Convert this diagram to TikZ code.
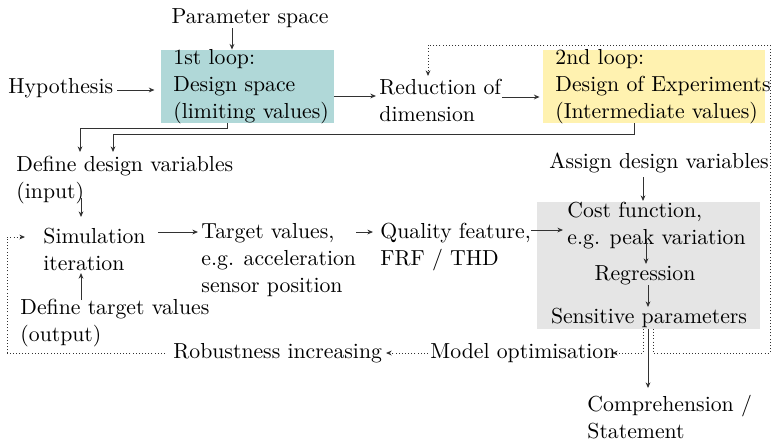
\documentclass[tikz,border=0pt]{standalone}
\usetikzlibrary{arrows.meta,calc}
\definecolor{tealbg}{RGB}{176,216,216}
\definecolor{yellowbg}{RGB}{255,242,176}
\definecolor{graybg}{RGB}{229,229,229}
\definecolor{linec}{RGB}{50,50,50}
\begin{document}
\begin{tikzpicture}[x=0.46pt,y=-0.46pt,
  txt/.style={inner sep=0pt, align=left, font=\fontsize{10}{12.4}\selectfont},
  ctxt/.style={inner sep=0pt, align=center, font=\fontsize{10}{12.4}\selectfont},
  bgbox/.style={inner sep=0pt, draw=none},
  arr/.style={-{Stealth[length=2.6pt,width=2.2pt]}, draw=linec, line width=0.45pt},
  plain/.style={draw=linec, line width=0.45pt},
  dotarr/.style={arr, densely dotted},
  dotline/.style={plain, densely dotted}]
\useasboundingbox (0,0) rectangle (771,441);

% background boxes
\node[bgbox, fill=tealbg, minimum width=79.6pt, minimum height=33.6pt] (box1) at (247.5,86.5) {};
\node[bgbox, fill=yellowbg, minimum width=102.1pt, minimum height=33.6pt] (box2) at (654,86.5) {};
\node[bgbox, fill=graybg, minimum width=102.6pt, minimum height=58.4pt] (box3) at (648.5,265.5) {};

% texts
\node[ctxt] (param) at (250,18) {Parameter space};
\node[txt, anchor=west] (hyp) at (8,88) {Hypothesis};
\node[txt, anchor=west] (box1t) at (173,87) {1st loop:\\Design space\\(limiting values)};
\node[txt, anchor=west] (red) at (379,100) {Reduction of\\dimension};
\node[txt, anchor=west] (box2t) at (555,87) {2nd loop:\\Design of Experiments\\(Intermediate values)};
\node[txt, anchor=west] (ddv) at (16,180) {Define design variables\\(input)};
\node[txt, anchor=west] (adv) at (549,163) {Assign design variables};
\node[txt, anchor=west] (sim) at (43,249) {Simulation\\iteration};
\node[txt, anchor=west] (tv) at (201,260) {Target values,\\e.g. acceleration\\sensor position};
\node[txt, anchor=west] (qf) at (380,247) {Quality feature,\\FRF / THD};
\node[txt, anchor=west] (cf) at (567,226) {Cost function,\\e.g. peak variation};
\node[ctxt] (reg) at (645,275) {Regression};
\node[ctxt] (sp) at (649,318) {Sensitive parameters};
\node[txt, anchor=west] (dtv) at (20,323) {Define target values\\(output)};
\node[txt, anchor=west] (rob) at (173,353) {Robustness increasing};
\node[txt, anchor=west] (mo) at (430,353) {Model optimisation};
\node[txt, anchor=west] (comp) at (587,417) {Comprehension /\\Statement};

% helper coordinates
\coordinate (c1) at (232,28);
\coordinate (c2) at (117,90);
\coordinate (c3) at (334,96);
\coordinate (c4) at (502,97);
\coordinate (b1a) at (227,123);
\coordinate (b1b) at (227,128);
\coordinate (b1c) at (80,128);
\coordinate (b1d) at (80,152);
\coordinate (b2a) at (634,123);
\coordinate (b2b) at (634,134);
\coordinate (b2c) at (113,134);
\coordinate (b2d) at (113,152);
\coordinate (s1) at (81,198);
\coordinate (s2) at (81,217);
\coordinate (s3) at (81,300);
\coordinate (s4) at (81,273);
\coordinate (t1) at (158,232);
\coordinate (t2) at (198,232);
\coordinate (t3) at (356,232);
\coordinate (t4) at (373,232);
\coordinate (q1) at (531,230);
\coordinate (q2) at (563,230);
\coordinate (a1) at (643,177);
\coordinate (a2) at (643,201);
\coordinate (r1) at (646,240);
\coordinate (r2) at (646,264);
\coordinate (r3) at (648,285);
\coordinate (r4) at (648,307);
\coordinate (k1) at (648,329);
\coordinate (k2) at (648,388);
\coordinate (m1) at (643,329);
\coordinate (m2) at (643,353);
\coordinate (m3) at (612,353);
\coordinate (n1) at (653,329);
\coordinate (n2) at (653,353);
\coordinate (n3) at (770,353);
\coordinate (n4) at (770,45);
\coordinate (n5) at (428,45);
\coordinate (n6) at (428,76);
\coordinate (o1) at (428,353);
\coordinate (o2) at (386,353);
\coordinate (u1) at (165,353);
\coordinate (u2) at (7,353);
\coordinate (u3) at (7,237);
\coordinate (u4) at (25,237);

% connectors
\draw[arr] (c1) -- (c1 |- box1.north);
\draw[arr] (c2) -- ([xshift=-2.8pt]box1.west |- c2);
\draw[arr] (c3) -- ([xshift=-1.4pt]red.west |- c3);
\draw[arr] (c4) -- ([xshift=-1.4pt]box2.west |- c4);
\draw[arr] (b1a) -- (b1b) -- (b1c) -- (b1d);
\draw[arr] (b2a) -- (b2b) -- (b2c) -- (b2d);
\draw[arr] (s1) -- (s2);
\draw[arr] (s3) -- (s4);
\draw[arr] (t1) -- (t2);
\draw[arr] (t3) -- (t4);
\draw[arr] (q1) -- (q2);
\draw[arr] (a1) -- (a2);
\draw[arr] (r1) -- (r2);
\draw[arr] (r3) -- (r4);
\draw[arr] (k1) -- (k2);
\draw[dotarr] (m1) -- (m2) -- (m3);
\draw[dotarr] (n1) -- (n2) -- (n3) -- (n4) -- (n5) -- (n6);
\draw[dotarr] (o1) -- (o2);
\draw[dotarr] (u1) -- (u2) -- (u3) -- (u4);
\end{tikzpicture}
\end{document}
